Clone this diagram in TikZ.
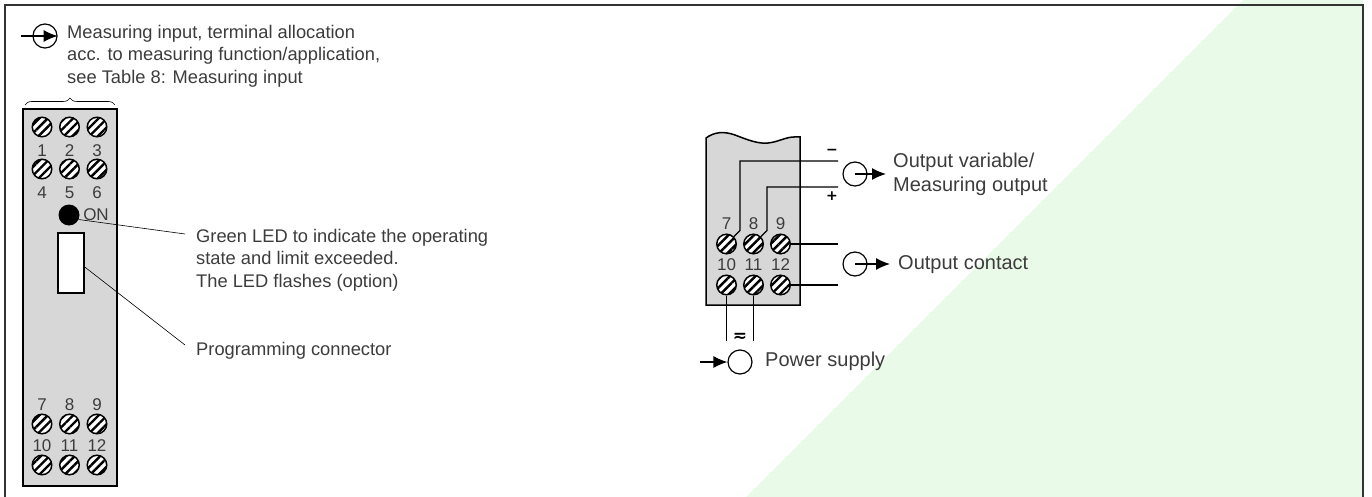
\documentclass[tikz,border=0pt]{standalone}
\usepackage{fontspec}
\setmainfont{Liberation Sans}
\newfontfamily\signfont{DejaVu Sans}
\usetikzlibrary{arrows.meta,decorations.pathreplacing,patterns.meta,positioning}
\definecolor{panelgray}{RGB}{215,215,215}
\definecolor{bggreen}{RGB}{234,250,232}
\definecolor{textgray}{RGB}{60,60,60}

\tikzset{
screw/.style={circle, draw, line width=1.5pt, minimum size=19.5pt, inner sep=0pt,
  preaction={fill=white}, pattern={Lines[angle=45,distance=6pt,line width=2.4pt]}},
num/.style={inner sep=0pt, text=textgray, font=\fontsize{17}{17}\selectfont},
caption/.style={inner sep=0pt, anchor=west, align=left, text=textgray,
  font=\fontsize{18.3}{22.5}\selectfont},
bigcaption/.style={caption, font=\fontsize{20}{24}\selectfont},
sign/.style={inner sep=0pt, font=\signfont\bfseries\fontsize{14}{14}\selectfont},
port/.style={circle, draw, line width=1.2pt, minimum size=24pt, inner sep=0pt},
panel/.style={draw, line width=1.5pt, fill=panelgray},
wire/.style={line width=1.3pt},
leader/.style={line width=0.6pt},
flow/.style={line width=1.2pt, -{Latex[length=14pt,width=12pt]}}
}

\begin{document}
\begin{tikzpicture}[x=1pt, y=-1pt, node distance=27.5pt and 27.5pt, on grid]
\useasboundingbox (0,0) rectangle (1372,497);

\fill [bggreen] (1243,0) -- (1363,0) -- (1363,497) -- (746,497) -- cycle;
\draw [line width=1.4pt, black!80] (5,497) -- (5,5) -- (1363,5) -- (1363,497);

% left unit
\draw [panel] (23,109) rectangle (117,486);
\node [screw] (a_1) at (42,127) {};
\node [screw] (a_2) [right = of a_1] {};
\node [screw] (a_3) [right = of a_2] {};
\node [screw] (a_4) at (42,169) {};
\node [screw] (a_5) [right = of a_4] {};
\node [screw] (a_6) [right = of a_5] {};
\node [screw] (a_7) at (42,424) {};
\node [screw] (a_8) [right = of a_7] {};
\node [screw] (a_9) [right = of a_8] {};
\node [screw] (a_10) at (42,465) {};
\node [screw] (a_11) [right = of a_10] {};
\node [screw] (a_12) [right = of a_11] {};
\node [num] (na_1) [below = 24pt of a_1] {1};
\node [num] (na_2) [below = 24pt of a_2] {2};
\node [num] (na_3) [below = 24pt of a_3] {3};
\node [num] (na_4) [below = 24pt of a_4] {4};
\node [num] (na_5) [below = 24pt of a_5] {5};
\node [num] (na_6) [below = 24pt of a_6] {6};
\node [num] (na_7) [above = 19pt of a_7] {7};
\node [num] (na_8) [above = 19pt of a_8] {8};
\node [num] (na_9) [above = 19pt of a_9] {9};
\node [num] (na_10) [above = 19pt of a_10] {10};
\node [num] (na_11) [above = 19pt of a_11] {11};
\node [num] (na_12) [above = 19pt of a_12] {12};

\node [circle, fill=black, minimum size=21pt, inner sep=0pt] (led) at (69,215) {};
\node [num] (on) at (96,215) {ON};
\node [draw, line width=1.5pt, fill=white, minimum width=26pt, minimum height=60pt, inner sep=0pt] (prog) at (71,263) {};

\node [caption] (t_in) at (67,56) {Measuring input, terminal allocation\\acc. to measuring function/application,\\see Table 8: Measuring input};
\node [caption] (t_led) at (196,260) {Green LED to indicate the operating\\state and limit exceeded.\\The LED flashes (option)};
\node [caption] (t_prog) at (196,350.5) {Programming connector};

\coordinate (c_led) at (185,234);
\coordinate (c_prog) at (185,345);
\coordinate (c_bl) at (25,105);
\coordinate (c_br) at (115,105);
\path [leader]
(led.-25) edge (c_led)
([yshift=-4pt]prog.east) edge (c_prog);
\draw [leader, decorate, decoration={brace, amplitude=7pt}] (c_bl) -- (c_br);

\node [port] (p_in) at (45,36) {};
\coordinate (c_in) at (21,36);
\draw [flow] (c_in) -- (p_in.east);

% right unit
\draw [panel] (706,305) -- (706,138) .. controls (714,132) and (724,131) .. (735,135)
.. controls (748,140) and (758,144) .. (768,143)
.. controls (778,142) and (786,137) .. (794,137) -- (800,137) -- (800,305) -- cycle;
\node [screw] (b_7) at (726.5,244) {};
\node [screw] (b_8) [right = 27pt of b_7] {};
\node [screw] (b_9) [right = 27pt of b_8] {};
\node [screw] (b_10) at (726.5,285) {};
\node [screw] (b_11) [right = 27pt of b_10] {};
\node [screw] (b_12) [right = 27pt of b_11] {};
\node [num] (nb_7) [above = 20pt of b_7] {7};
\node [num] (nb_8) [above = 20pt of b_8] {8};
\node [num] (nb_9) [above = 20pt of b_9] {9};
\node [num] (nb_10) [above = 20pt of b_10] {10};
\node [num] (nb_11) [above = 20pt of b_11] {11};
\node [num] (nb_12) [above = 20pt of b_12] {12};

\coordinate (c_minus) at (838,161);
\coordinate (c_plus) at (838,187);
\coordinate (c_nine) at (838,244);
\coordinate (c_twelve) at (838,285);
\coordinate (c_ten) at (726.5,341);
\coordinate (c_eleven) at (753.5,341);
\draw [wire] (b_7.north east) -- ++(6,-6) |- (c_minus);
\draw [wire] (b_8.north east) -- ++(6,-6) |- (c_plus);
\path [wire]
(b_9.east) edge (c_nine)
(b_12.east) edge (c_twelve)
(b_10.south) edge (c_ten)
(b_11.south) edge (c_eleven);
\node [sign] (s_minus) at (832,152) {−};
\node [sign] (s_plus) at (832,196) {+};
\node [sign, font=\signfont\bfseries\fontsize{17}{17}\selectfont] (s_ac) at (740,337) {≂};

\node [port] (p_var) at (855,174) {};
\node [port] (p_con) at (855,264) {};
\node [port] (p_pow) at (740,362) {};
\coordinate (c_var) at (886,174);
\coordinate (c_con) at (890,264);
\coordinate (c_pow) at (700,362);
\draw [flow] (p_var.center) -- (c_var);
\draw [flow] (p_con.center) -- (c_con);
\draw [flow] (c_pow) -- (p_pow.west);
\node [bigcaption] (t_var) at (893,174) {Output variable/\\Measuring output};
\node [bigcaption] (t_con) at (898,265) {Output contact};
\node [bigcaption] (t_pow) at (765,361) {Power supply};
\end{tikzpicture}
\end{document}
